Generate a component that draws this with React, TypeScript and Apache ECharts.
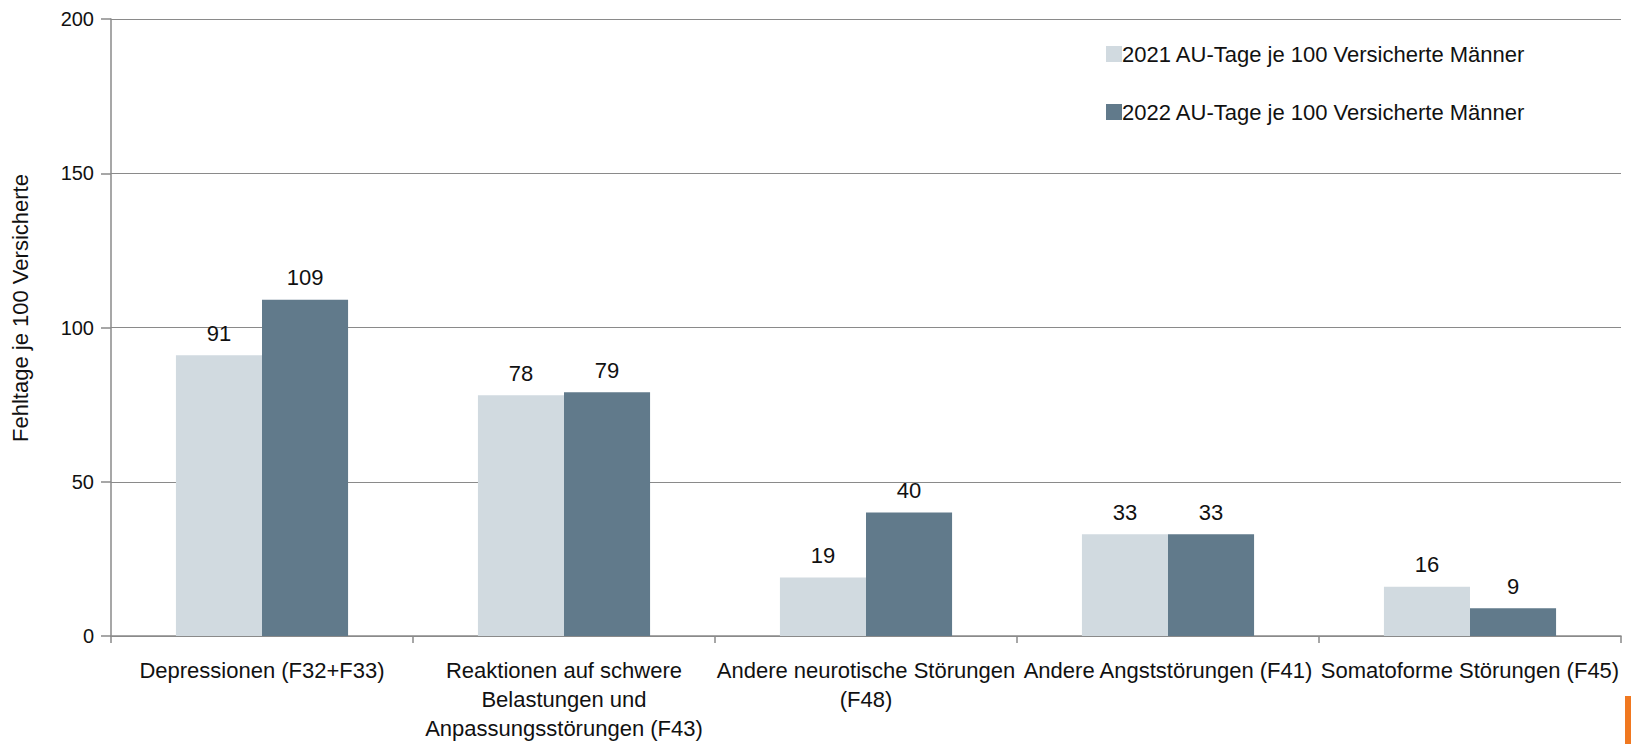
import React, { useEffect, useRef } from "react";
import * as echarts from "echarts";

const categories = [
  "Depressionen (F32+F33)",
  "Reaktionen auf schwere\nBelastungen und\nAnpassungsstörungen (F43)",
  "Andere neurotische Störungen\n(F48)",
  "Andere Angststörungen (F41)",
  "Somatoforme Störungen (F45)",
];
const series2021 = [91, 78, 19, 33, 16];
const series2022 = [109, 79, 40, 33, 9];
const seriesNames = [
  "2021 AU-Tage je 100 Versicherte Männer",
  "2022 AU-Tage je 100 Versicherte Männer",
];
const yAxisName = "Fehltage je 100 Versicherte";

const FONT = "'Liberation Sans', Arial, sans-serif";

export default function App() {
  const ref = useRef<HTMLDivElement>(null);
  useEffect(() => {
    if (!ref.current) return;
    const chart = echarts.init(ref.current, undefined, { renderer: "svg" });
    const label = {
      show: true,
      position: "top",
      distance: 11,
      color: "#111",
      fontSize: 22,
      fontFamily: FONT,
    };
    chart.setOption({
      animation: false,
      textStyle: { fontFamily: FONT },
      grid: { left: 111, right: 10, top: 19, bottom: 108, containLabel: false },
      legend: {
        orient: "vertical",
        left: 1101,
        top: 38,
        itemGap: 36,
        itemWidth: 16,
        itemHeight: 16,
        icon: "rect",
        textStyle: { fontSize: 22, lineHeight: 22, color: "#111", fontFamily: FONT, padding: [0, 0, 0, -5] },
        data: seriesNames,
      },
      xAxis: {
        type: "category",
        data: categories,
        axisLine: { lineStyle: { color: "#8a8a8a", width: 1.5 } },
        axisTick: { show: true, length: 7, lineStyle: { color: "#8a8a8a", width: 1.5 } },
        axisLabel: {
          interval: 0,
          color: "#111",
          fontSize: 22,
          lineHeight: 29,
          margin: 20,
          fontFamily: FONT,
        },
      },
      yAxis: {
        type: "value",
        min: 0,
        max: 200,
        interval: 50,
        axisLine: { show: true, lineStyle: { color: "#8a8a8a", width: 1.5 } },
        axisTick: { show: true, inside: false, length: 10, lineStyle: { color: "#8a8a8a", width: 1.5 } },
        splitLine: { show: true, lineStyle: { color: "#8a8a8a", width: 1.2 } },
        axisLabel: {
          color: "#111",
          fontSize: 20,
          margin: 17,
          fontFamily: FONT,
        },
      },
      graphic: [
        {
          type: "text",
          x: 20,
          y: 308,
          rotation: Math.PI / 2,
          style: {
            text: yAxisName,
            fontSize: 22,
            fontFamily: FONT,
            fill: "#111",
            align: "center",
            verticalAlign: "middle",
          },
        },
        {
          type: "rect",
          shape: { x: 1625, y: 696, width: 6, height: 48 },
          style: { fill: "#f07820" },
        },
      ],
      series: [
        {
          name: seriesNames[0],
          type: "bar",
          data: series2021,
          barGap: "0%",
          barCategoryGap: "43%",
          itemStyle: { color: "#d1dae0" },
          label,
        },
        {
          name: seriesNames[1],
          type: "bar",
          data: series2022,
          itemStyle: { color: "#617a8b" },
          label,
        },
      ],
    });
    return () => chart.dispose();
  }, []);
  return <div ref={ref} style={{ width: 1631, height: 744, position: "absolute", left: 0, top: 0 }} />;
}
